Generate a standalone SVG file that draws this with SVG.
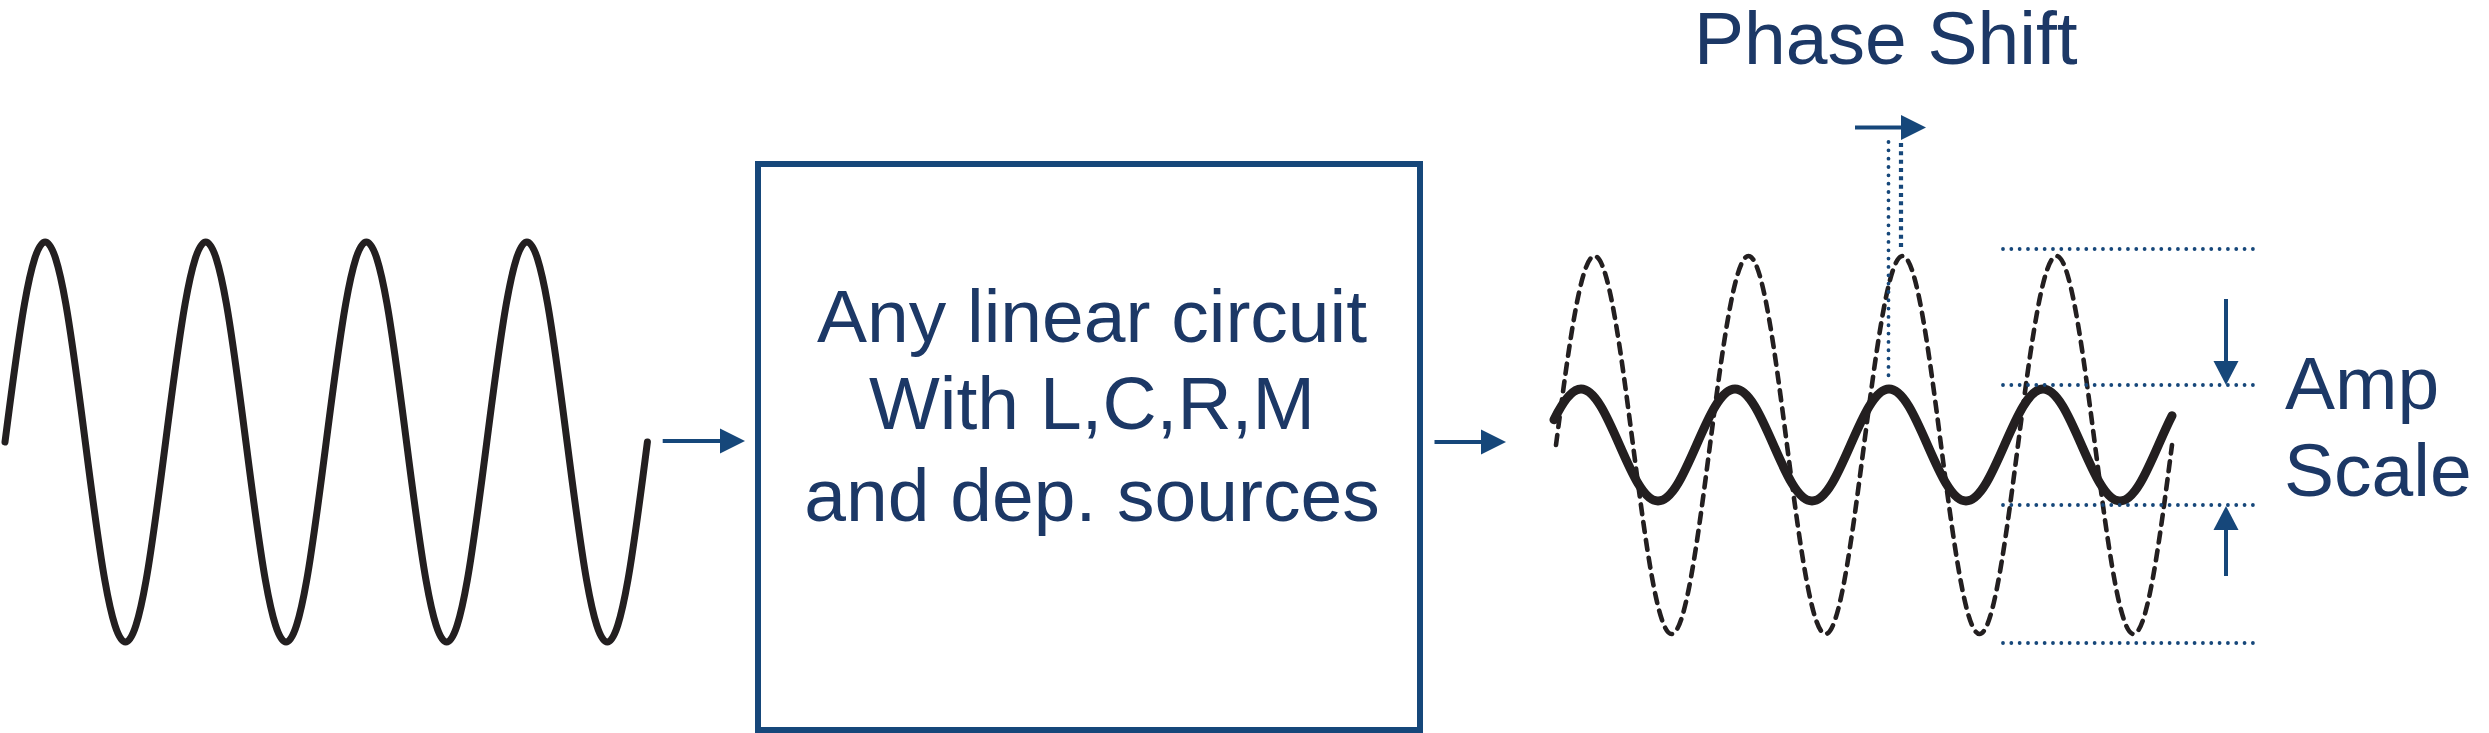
<svg xmlns="http://www.w3.org/2000/svg" width="2489" height="733" viewBox="0 0 2489 733">
<style>
.txt{font-family:"Liberation Sans",Arial,sans-serif;font-size:75px;fill:#1c3866}
.wave{fill:none;stroke:#231f20;stroke-linejoin:round}
.conn{stroke:#16477a;stroke-width:4;fill:none}
.head{fill:#16477a}
.dots{stroke:#16477a;stroke-width:3.8;stroke-linecap:round;stroke-dasharray:0 8.33;fill:none}
.sq{stroke:#16477a;stroke-width:4.2;stroke-dasharray:4 4.33;fill:none}
</style>
<rect width="2489" height="733" fill="#ffffff"/>
<g id="input-signal">
<path class="wave" stroke-width="7" stroke-linecap="round" d="M5,442 c13.09,-102.46 25.62,-200 40.15,-200 c14.53,0 27.06,97.54 40.15,200 c13.09,102.46 25.62,200 40.15,200 c14.53,0 27.06,-97.54 40.15,-200 c13.09,-102.46 25.62,-200 40.15,-200 c14.53,0 27.06,97.54 40.15,200 c13.09,102.46 25.62,200 40.15,200 c14.53,0 27.06,-97.54 40.15,-200 c13.09,-102.46 25.62,-200 40.15,-200 c14.53,0 27.06,97.54 40.15,200 c13.09,102.46 25.62,200 40.15,200 c14.53,0 27.06,-97.54 40.15,-200 c13.09,-102.46 25.62,-200 40.15,-200 c14.53,0 27.06,97.54 40.15,200 c13.09,102.46 25.62,200 40.15,200 c14.53,0 27.06,-97.54 40.15,-200"/>
</g>
<g id="circuit">
<rect x="758" y="164" width="662" height="566" fill="none" stroke="#16477a" stroke-width="6"/>
<text class="txt" x="1092" y="342" text-anchor="middle">Any linear circuit</text>
<text class="txt" x="1092" y="429" text-anchor="middle">With L,C,R,M</text>
<text class="txt" x="1092" y="521" text-anchor="middle">and dep. sources</text>
</g>
<g id="output-signal">
<path class="wave" stroke-width="4.6" stroke-linecap="round" stroke-dasharray="10 8" d="M1556,445 c12.56,-96.82 24.57,-189 38.5,-189 c13.93,0 25.94,92.18 38.5,189 c12.56,96.82 24.57,189 38.5,189 c13.93,0 25.94,-92.18 38.5,-189 c12.56,-96.82 24.57,-189 38.5,-189 c13.93,0 25.94,92.18 38.5,189 c12.56,96.82 24.57,189 38.5,189 c13.93,0 25.94,-92.18 38.5,-189 c12.56,-96.82 24.57,-189 38.5,-189 c13.93,0 25.94,92.18 38.5,189 c12.56,96.82 24.57,189 38.5,189 c13.93,0 25.94,-92.18 38.5,-189 c12.56,-96.82 24.57,-189 38.5,-189 c13.93,0 25.94,92.18 38.5,189 c12.56,96.82 24.57,189 38.5,189 c13.93,0 25.94,-92.18 38.5,-189"/>
<path class="wave" stroke-width="9" stroke-linecap="round" d="M1554,419.7 C1563,401.36 1572,389 1581,389 c13.93,0 25.94,27.31 38.5,56 c12.56,28.69 24.57,56 38.5,56 c13.93,0 25.94,-27.31 38.5,-56 c12.56,-28.69 24.57,-56 38.5,-56 c13.93,0 25.94,27.31 38.5,56 c12.56,28.69 24.57,56 38.5,56 c13.93,0 25.94,-27.31 38.5,-56 c12.56,-28.69 24.57,-56 38.5,-56 c13.93,0 25.94,27.31 38.5,56 c12.56,28.69 24.57,56 38.5,56 c13.93,0 25.94,-27.31 38.5,-56 c12.56,-28.69 24.57,-56 38.5,-56 c13.93,0 25.94,27.31 38.5,56 c12.56,28.69 24.57,56 38.5,56 c13.93,0 25.94,-27.31 38.5,-56 C2163,434.72 2167.5,424.46 2172,415.7"/>
</g>
<g id="phase-shift">
<text class="txt" x="1694" y="64">Phase Shift</text>
<line class="dots" x1="1888.5" y1="142" x2="1888.5" y2="380"/>
<line class="sq" x1="1901" y1="143" x2="1901" y2="248"/>
<line class="conn" x1="1855" y1="127.5" x2="1903" y2="127.5"/>
<polygon class="head" points="1901,115 1926,127.5 1901,140"/>
</g>
<g id="amp-scale">
<line class="dots" x1="2003" y1="249" x2="2256" y2="249"/>
<line class="dots" x1="2003" y1="385" x2="2256" y2="385"/>
<line class="dots" x1="2003" y1="505" x2="2256" y2="505"/>
<line class="dots" x1="2003" y1="643" x2="2256" y2="643"/>
<line class="conn" x1="2226" y1="299" x2="2226" y2="363"/>
<polygon class="head" points="2213.5,361 2238.5,361 2226,385"/>
<line class="conn" x1="2226" y1="528" x2="2226" y2="576"/>
<polygon class="head" points="2226,506 2213.5,530 2238.5,530"/>
<text class="txt" x="2285" y="409">Amp</text>
<text class="txt" x="2284" y="496">Scale</text>
</g>
<g id="connectors">
<line class="conn" x1="662.7" y1="441" x2="722" y2="441"/>
<polygon class="head" points="720,428.5 745,441 720,453.5"/>
<line class="conn" x1="1434.5" y1="442" x2="1483" y2="442"/>
<polygon class="head" points="1481,429.5 1506,442 1481,454.5"/>
</g>
</svg>
